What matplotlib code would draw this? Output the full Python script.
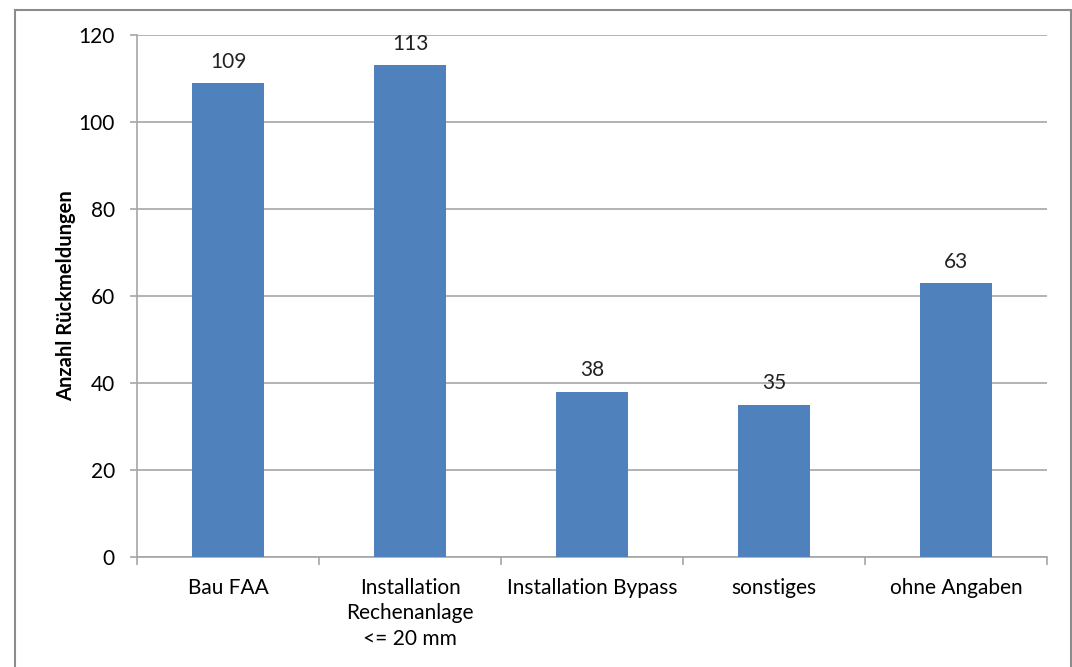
import matplotlib
matplotlib.use("Agg")
import matplotlib.pyplot as plt
from matplotlib.patches import Rectangle
import numpy as np

categories = ["Bau FAA", "Installation\nRechenanlage\n<= 20 mm", "Installation Bypass", "sonstiges", "ohne Angaben"]
values = [109, 113, 38, 35, 63]
yticks = [0, 20, 40, 60, 80, 100, 120]

plt.rcParams['font.family'] = ['Lato', 'DejaVu Sans']

W, H = 1072, 667
fig = plt.figure(figsize=(W/100, H/100), dpi=100)
ax = fig.add_axes([137/W, 1-557/H, (1047-137)/W, (557-35)/H])

FS = 15
x = np.arange(len(categories))
ax.bar(x, values, width=0.40, color="#4F81BD", zorder=3)
for xi, v in zip(x, values):
    ax.text(xi, v + 2.6, str(v), ha="center", va="bottom", fontsize=FS, color="#222222")

ax.set_xlim(-0.5, len(categories) - 0.5)
ax.set_ylim(0, 120)
ax.set_yticks(yticks)
ax.set_yticklabels([str(t) for t in yticks], fontsize=FS)
ax.yaxis.grid(True, color="#A6A6A6", linewidth=1.2, zorder=0)
ax.set_axisbelow(True)

ax.set_xticks(x)
ax.set_xticklabels(categories, fontsize=FS, linespacing=1.35, va="top")
ax.tick_params(axis="x", length=0, pad=15)
ax.set_xticks(np.arange(-0.5, len(categories)), minor=True)
ax.tick_params(axis="x", which="minor", length=6, color="#A6A6A6", width=1.2)
ax.tick_params(axis="y", length=5, color="#A6A6A6", width=1.2, pad=11)

for s in ["top", "right"]:
    ax.spines[s].set_visible(False)
for s in ["left", "bottom"]:
    ax.spines[s].set_color("#A6A6A6")
    ax.spines[s].set_linewidth(1.2)

ax.set_ylabel("Anzahl Rückmeldungen", fontsize=14.5, fontweight="bold", labelpad=2)

fig.patches.append(Rectangle((15/W, -0.01), (1071-15)/W, 1-10/H + 0.01, transform=fig.transFigure,
                             fill=False, edgecolor="#8C8C8C", linewidth=1.5))

fig.savefig("out.png", dpi=100)
